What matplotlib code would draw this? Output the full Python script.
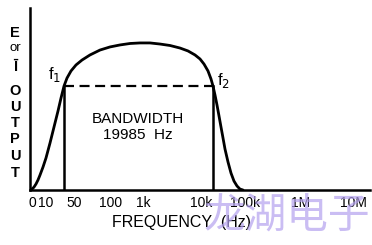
import matplotlib
matplotlib.use("Agg")
import matplotlib.pyplot as plt

# frequency axis positions (arbitrary units along the axis) and relative output
curve_pos = [0, 2, 4, 6, 8, 10, 13, 16, 20, 24, 28, 31, 34, 37, 41, 46, 52, 60,
             70, 80, 90, 100, 110, 120, 130, 140, 150, 158, 165, 170, 174, 178,
             181, 183, 185, 187, 189, 191, 193, 195, 198, 201, 204, 207, 210, 213]
curve_out = [0, 0.5, 1.6, 3.3, 5.5, 8.2, 12.6, 17.6, 25.8, 34.6, 43.4, 50.5,
             57.1, 61.5, 65.4, 68.7, 71.4, 74.2, 76.9, 78.6, 79.7, 80.5, 80.8,
             80.8, 80.2, 79.4, 78.0, 76.4, 74.2, 72.0, 69.2, 65.4, 61.0, 57.1,
             52.2, 46.7, 40.7, 34.6, 28.6, 22.5, 15.4, 9.3, 4.9, 2.2, 0.5, 0]

f1_pos, f2_pos = 34, 183
half_power = 57.1

tick_pos = [2, 16, 44, 81, 113, 171, 215, 271, 323]
tick_labels = ["0", "10", "50", "100", "1k", "10k", "100k", "1M", "10M"]

ylabel_chars = ["E", "or", "Ī", "O", "U", "T", "P", "U", "T"]
ylabel_y = [33, 48, 67, 91, 107, 123, 139, 156, 173]

W, H = 372, 245
fig = plt.figure(figsize=(W / 100, H / 100), dpi=100)
ax = fig.add_axes([30 / W, (H - 190) / H, 340 / W, 182 / H])
ax.set_xlim(0, 340)
ax.set_ylim(0, 100)
for s in ["top", "right"]:
    ax.spines[s].set_visible(False)
ax.spines["left"].set_linewidth(1.8)
ax.spines["bottom"].set_linewidth(1.8)
ax.set_yticks([])
ax.set_xticks(tick_pos)
ax.set_xticklabels(tick_labels, fontsize=10, family="Liberation Sans")
ax.tick_params(axis="x", length=0, pad=4)

ax.plot(curve_pos, curve_out, color="black", lw=2.0, solid_capstyle="round",
        solid_joinstyle="round")
ax.plot([f1_pos, f2_pos], [half_power, half_power], color="black", lw=1.6,
        dashes=(4.5, 2.5))
ax.plot([f1_pos, f1_pos], [0, half_power], color="black", lw=1.8)
ax.plot([f2_pos, f2_pos], [0, half_power], color="black", lw=1.8)

ax.text(f1_pos - 3, half_power + 1, r"f$_1$", ha="right", va="bottom",
        fontsize=12, family="Liberation Sans")
ax.text(f2_pos + 4, half_power - 2, r"f$_2$", ha="left", va="bottom",
        fontsize=12, family="Liberation Sans")
ax.text(108, 39, "BANDWIDTH", ha="center", va="center", fontsize=11,
        family="Liberation Sans")
ax.text(108, 30, "19985  Hz", ha="center", va="center", fontsize=11,
        family="Liberation Sans")

fig.text(182 / W, 1 - 222 / H, "FREQUENCY  (Hz)", ha="center", va="center",
         fontsize=11.5, family="Liberation Sans")
for ch, yy in zip(ylabel_chars, ylabel_y):
    fig.text(15 / W, 1 - yy / H, ch, ha="center", va="center",
             fontsize=10.5 if ch != "or" else 9.5, family="Liberation Sans",
             fontweight="bold" if ch != "or" else "normal")

fig.text(287 / W, 1 - 217 / H, "龙湖电子", ha="center", va="center",
         fontsize=30, color="#b4a2ee", alpha=0.7,
         family=["Noto Sans CJK SC", "DejaVu Sans"])

fig.savefig("out.png", dpi=100)
